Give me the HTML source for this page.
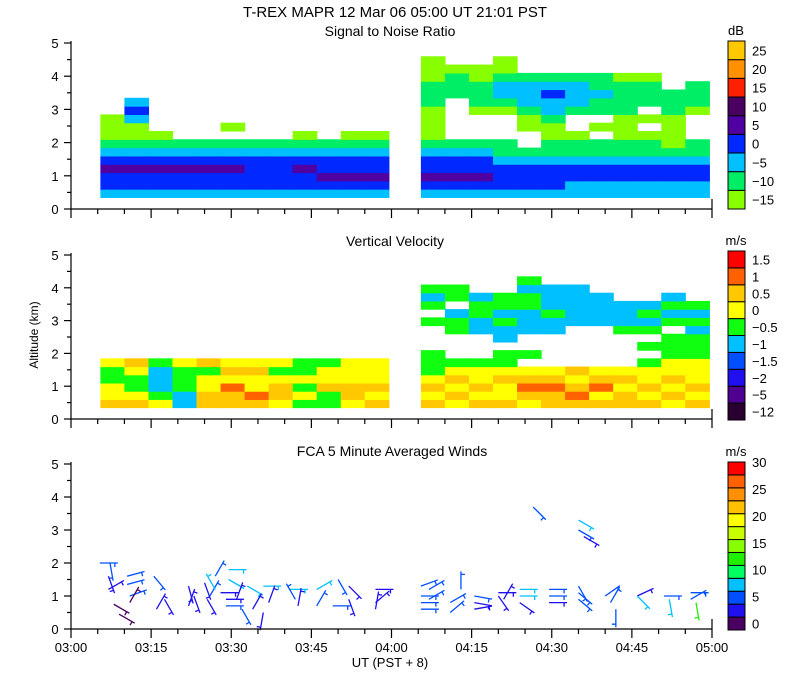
<!DOCTYPE html>
<html><head><meta charset="utf-8"><style>
html,body{margin:0;padding:0;background:#fff;}
svg{display:block;font-family:"Liberation Sans",sans-serif;}
text{fill:#000;font-size:13px;}
</style></head><body>
<svg id="chart" width="800" height="700" viewBox="0 0 800 700" xmlns="http://www.w3.org/2000/svg">
<rect width="800" height="700" fill="#fff"/>
<text x="395" y="17" text-anchor="middle" style="font-size:15px">T-REX   MAPR 12 Mar 06   05:00 UT   21:01   PST</text>
<text x="390" y="36" text-anchor="middle" style="font-size:14px">Signal to Noise Ratio</text>
<text x="395" y="246" text-anchor="middle" style="font-size:14px">Vertical Velocity</text>
<text x="392" y="456" text-anchor="middle" style="font-size:14px">FCA 5 Minute Averaged Winds</text>
<text x="390" y="667" text-anchor="middle">UT  (PST + 8)</text>
<text transform="translate(38,335) rotate(-90)" text-anchor="middle" style="font-size:12px">Altitude (km)</text>
<g id="layers"></g>
</svg>
<script>
// ---- data ----
const xTickLabels = ["03:00","03:15","03:30","03:45","04:00","04:15","04:30","04:45","05:00"];
const yTickLabels = [0,1,2,3,4,5];
const snrLabels = ["-15","-10","-5","0","5","10","15","20","25"];
const snrColors = ["#88ff00","#00ee66","#00c0ff","#0028ff","#5000a0","#4a0060","#ff2000","#ff9000","#ffc800"];
const vvLabels = ["-12","-5","-2","-1.5","-1","-0.5","0","0.5","1","1.5"];
const vvColors = ["#2a0030","#500090","#2010f0","#0050ff","#00c0ff","#10ff10","#ffff00","#ffc800","#ff6000","#ff0000"];
const windLabels = ["0","5","10","15","20","25","30"];
const windColors = ["#4a0060","#2010f0","#0050ff","#00c0ff","#00ff60","#20f000","#88ff00","#c8ff00","#ffff00","#ffc000","#ff9000","#ff6000","#ff0000"];
// radar segments: start minute, end minute after 03:00
const segStart = [5.5, 65.5];
const segEnd = [59.5, 119.5];
// SNR class grid: per column, bottom-up 0.25 km bins from 0.35 km ('.' = no data)
const snrSeg1 = ["2334321000","233432100232","23343210","2334321","2334321","2334321.0","2333321","2333321","23343210","2343321","23433210","23433210"];
const snrSeg2 = ["23433210000111000","2343321.....1110","2343321...011100","2333211...0122100","233321..0012221","233321100122321","22332110..12221","2233211.0.11211","223321100011110","22332110.0.1110","2233210000111","2233211...0111"];
// Vertical velocity class grid
const vvSeg1 = ["766556","765567","654445","445556","776657","778676","786676","677656","565655","557665","677666","767666"];
const vvSeg2 = ["7676555...5.545","676765...554.55","767665...44554","7667655.445455","67876.5..4445545","77876....445444","78767.....44444","76876.....4444","77676....5444","767665.5.5454","676766555.5454","7676665554545"];
// winds: minute after 03:00, altitude km, direction (deg, screen), speed m/s
const windMin = [5.4,7.3,7,7,8,9,10.5,10.5,11,11,15.5,17.5,16,22,22,23,25,25.5,27,26,27,29.5,29.5,28,29,29,31,32,33,34,36,37,36,41,42,42.5,46,46,50,49,52,52,57,57,57,65.5,65.5,65.5,65.5,67,67,71,71,73,75.5,75.5,75.5,80,80,81,84,84,84,89.5,89.5,89.5,95,95,95,100,101,102,106,106,111,112,116,116,117,86.5,95,95,96];
const windAlt = [2.0,2.0,1.6,1.2,0.75,0.45,1.6,1.35,1.0,0.8,1.6,0.9,0.6,1.3,0.7,1.0,1.4,0.9,1.6,1.0,1.2,1.8,1.5,1.1,0.9,0.7,0.9,0.6,1.3,0.6,1.3,0.8,0.5,1.2,0.9,0.7,1.2,0.7,1.5,0.7,1.3,0.9,1.2,0.8,0.6,1.0,1.3,0.8,0.6,1.2,0.9,0.8,0.5,1.2,1.0,0.8,0.6,1.1,1.0,0.9,1.2,1.0,0.8,1.2,1.0,0.8,1.3,1.1,0.9,1.0,0.8,0.6,1.0,1.0,1.0,0.9,1.1,0.9,0.8,3.7,3.3,3.0,2.8];
const windDir = [0,80,70,-30,30,30,-15,-15,-20,-60,50,60,-60,75,-70,70,70,60,-60,-60,-120,0,30,0,0,0,-70,60,30,-60,0,-70,100,0,-120,-80,-30,-60,60,0,45,70,0,-40,-80,0,-20,0,0,-30,-30,-30,-40,-90,10,10,-10,0,55,-60,0,0,35,0,0,0,60,40,40,-35,-60,90,-25,45,0,80,0,-30,80,45,30,30,30];
const windSpd = [5,5,4,3,2,2,5,5,5,2,5,3,3,3,3,3,3,3,5,5,8,8,8,3,3,5,4,5,8,3,8,3,3,8,5,3,8,5,5,5,4,3,3,3,3,5,5,5,5,5,5,5,5,5,5,3,3,3,3,3,8,8,3,5,5,3,5,5,5,5,5,5,3,8,5,8,5,5,13,5,8,5,3];

// ---- geometry ----
const X0 = 71, X1 = 712;
const panels = [{y0:209, y5:43},{y0:419, y5:255},{y0:629, y5:464}];
const xs = m => X0 + (X1 - X0) * m / 120;
const ys = (p, km) => p.y0 - (p.y0 - p.y5) * km / 5;
const NS = "http://www.w3.org/2000/svg";
const root = document.getElementById('layers');
function el(tag, attrs, parent) {
  const e = document.createElementNS(NS, tag);
  for (const k in attrs) e.setAttribute(k, attrs[k]);
  (parent || root).appendChild(e);
  return e;
}

// ---- field grids ----
function drawField(p, segs, colors, name) {
  const g = el('g', {});
  
  
  segs.forEach((cols, s) => {
    const w = (segEnd[s] - segStart[s]) / cols.length;
    cols.forEach((str, c) => {
      for (let r = 0; r < str.length; r++) {
        const ch = str[r];
        if (ch === '.') continue;
        const k0 = 0.35 + r * 0.25, k1 = k0 + 0.25;
        const xa = xs(segStart[s] + c * w), xb = xs(segStart[s] + (c + 1) * w);
        const cell = el('rect', {x: xa, y: ys(p, k1), width: xb - xa + 0.6, height: ys(p, k0) - ys(p, k1) + 0.6, fill: colors[+ch]}, g);
        
        
      }
    });
  });
}
drawField(panels[0], [snrSeg1, snrSeg2], snrColors, 'snr-field');
drawField(panels[1], [vvSeg1, vvSeg2], vvColors, 'vv-field');

// ---- wind barbs ----
const gw = el('g', {'stroke-width': 1.3, fill: 'none'});


windMin.forEach((m, i) => {
  const bx = xs(m), by = ys(panels[2], windAlt[i]);
  const a = windDir[i] * Math.PI / 180;
  const L = 18;
  const ex = bx + L * Math.cos(a), ey = by + L * Math.sin(a);
  const col = windColors[Math.min(12, Math.floor(windSpd[i] / 2.5))];
  const px = -Math.sin(a) * 4, py = Math.cos(a) * 4;
  const b = el('path', {d: `M${bx},${by}L${ex},${ey}M${ex - Math.cos(a) * 3},${ey - Math.sin(a) * 3}l${px},${py}`, stroke: col}, gw);
  
  
});

// ---- axes ----
panels.forEach((p, pi) => {
  const ax = el('g', {stroke: '#000', 'stroke-width': 1.2});
  
  
  el('line', {x1: X0, y1: p.y5 - 2, x2: X0, y2: p.y0}, ax);
  el('line', {x1: X0, y1: p.y0, x2: X1, y2: p.y0}, ax);
  el('line', {x1: X1, y1: p.y0, x2: X1, y2: p.y0 - 10}, ax);
  for (let k = 0; k <= 10; k++) {
    const y = ys(p, k / 2);
    el('line', {x1: X0 - (k % 2 ? 4 : 7), y1: y, x2: X0, y2: y}, ax);
  }
  for (let m = 0; m <= 120; m += 5) {
    el('line', {x1: xs(m), y1: p.y0, x2: xs(m), y2: p.y0 + (m % 15 ? 5 : 9)}, ax);
  }
  yTickLabels.forEach(v => {
    const t = el('text', {x: 55, y: ys(p, v) + 5, 'text-anchor': 'middle'});
    t.textContent = v;
    
    
  });
});
xTickLabels.forEach((lab, i) => {
  const t = el('text', {x: xs(i * 15), y: 652, 'text-anchor': 'middle'});
  t.textContent = lab;
  
  
});

// ---- colorbars ----
function colorbar(top, bot, colors, labels, unit, name, labelMode) {
  const g = el('g', {});
  
  
  const n = colors.length, h = (bot - top) / n;
  colors.forEach((c, i) => {
    const r = el('rect', {x: 728, y: bot - (i + 1) * h, width: 17, height: h, fill: c, stroke: '#000', 'stroke-width': 1}, g);
    
    
  });
  labels.forEach((l, i) => {
    let y;
    if (labelMode === 'center') y = bot - (i + 0.5) * h + 5;
    else y = bot - i * (bot - top - h / 2) / (labels.length - 1) - h / 2 + 5;
    const t = el('text', {x: 752, y: y}, g);
    t.textContent = l.replace('-', '\u2212');
    
    
  });
  const u = el('text', {x: 736, y: top - 6, 'text-anchor': 'middle'}, g);
  u.textContent = unit;
  
  
}
colorbar(41, 209, snrColors, snrLabels, 'dB', 'snr-colorbar', 'center');
colorbar(251, 420, vvColors, vvLabels, 'm/s', 'vv-colorbar', 'center');
colorbar(462, 630, windColors, windLabels, 'm/s', 'wind-colorbar', 'spread');
</script>
</body></html>
